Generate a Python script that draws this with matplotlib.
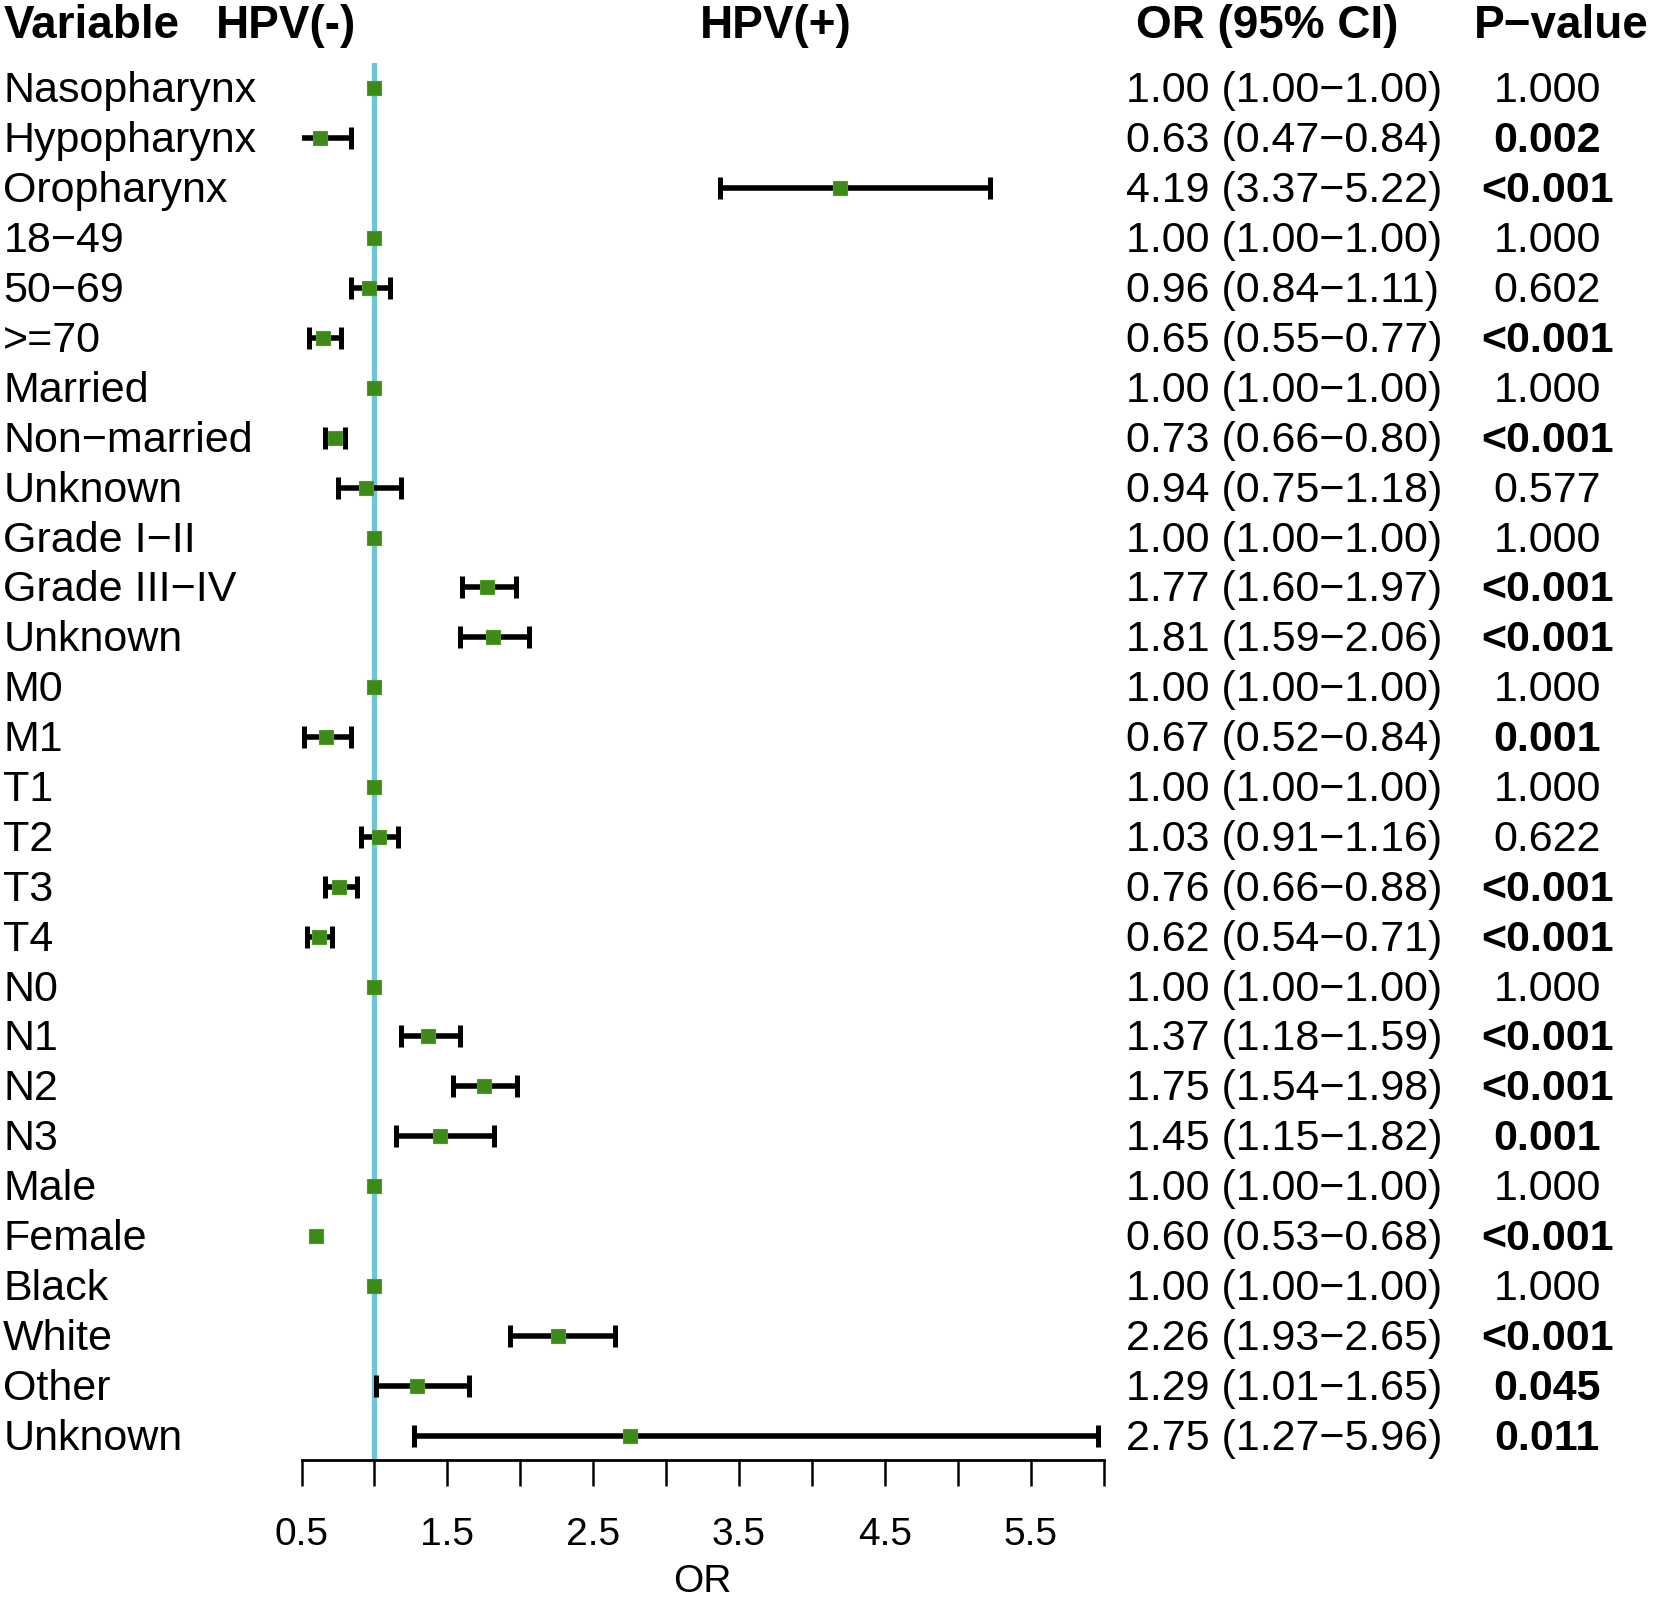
import numpy as np
import matplotlib
matplotlib.use("Agg")
import matplotlib.pyplot as plt
import matplotlib.transforms as mtransforms

plt.rcParams['font.family'] = ['Liberation Sans', 'DejaVu Sans']

# dane z wykresu (od gory do dolu)
labels = ["Nasopharynx", "Hypopharynx", "Oropharynx", "18−49", "50−69", ">=70",
          "Married", "Non−married", "Unknown", "Grade I−II", "Grade III−IV", "Unknown",
          "M0", "M1", "T1", "T2", "T3", "T4", "N0", "N1", "N2", "N3",
          "Male", "Female", "Black", "White", "Other", "Unknown"]
or_val = [1.00, 0.63, 4.19, 1.00, 0.96, 0.65, 1.00, 0.73, 0.94, 1.00, 1.77, 1.81,
          1.00, 0.67, 1.00, 1.03, 0.76, 0.62, 1.00, 1.37, 1.75, 1.45,
          1.00, 0.60, 1.00, 2.26, 1.29, 2.75]
ci_lo = [1.00, 0.47, 3.37, 1.00, 0.84, 0.55, 1.00, 0.66, 0.75, 1.00, 1.60, 1.59,
         1.00, 0.52, 1.00, 0.91, 0.66, 0.54, 1.00, 1.18, 1.54, 1.15,
         1.00, 0.53, 1.00, 1.93, 1.01, 1.27]
ci_hi = [1.00, 0.84, 5.22, 1.00, 1.11, 0.77, 1.00, 0.80, 1.18, 1.00, 1.97, 2.06,
         1.00, 0.84, 1.00, 1.16, 0.88, 0.71, 1.00, 1.59, 1.98, 1.82,
         1.00, 0.68, 1.00, 2.65, 1.65, 5.96]
p_val = ["1.000", "0.002", "<0.001", "1.000", "0.602", "<0.001", "1.000", "<0.001",
         "0.577", "1.000", "<0.001", "<0.001", "1.000", "0.001", "1.000", "0.622",
         "<0.001", "<0.001", "1.000", "<0.001", "<0.001", "0.001", "1.000", "<0.001",
         "1.000", "<0.001", "0.045", "0.011"]
# w oryginale dla tego wiersza nie ma narysowanej linii CI
no_ci_line = ["Female"]

xticks = np.arange(0.5, 6.01, 0.5)
xlabels_shown = [0.5, 1.5, 2.5, 3.5, 4.5, 5.5]

n = len(labels)
y = np.arange(n, 0, -1)

fig = plt.figure(figsize=(16.53, 16.0), dpi=100)
ax = fig.add_axes([0.1824, 0.0875, 0.6676 - 0.1824, 0.9606 - 0.0875])
ax.set_xlim(0.5, 6.0)
ax.set_ylim(0.51, n + 0.51)

green = '#3e8a17'
ax.axvline(1.0, color='#6ec5d6', lw=3.8, zorder=1)

for i in range(n):
    if ci_lo[i] != ci_hi[i] and labels[i] not in no_ci_line:
        ax.errorbar(or_val[i], y[i], xerr=[[or_val[i] - ci_lo[i]], [ci_hi[i] - or_val[i]]],
                    fmt='none', ecolor='black', elinewidth=4, capsize=8, capthick=3.6,
                    zorder=2)
    ax.plot(or_val[i], y[i], 's', color=green, ms=10, mec='#4f9a25', mew=0.8, zorder=3)

for s in ['top', 'right', 'left']:
    ax.spines[s].set_visible(False)
ax.spines['bottom'].set_linewidth(2)
ax.set_yticks([])
ax.set_xticks(xticks)
ax.set_xticklabels([("%.1f" % t) if round(t, 1) in xlabels_shown else "" for t in xticks])
ax.tick_params(axis='x', length=19, width=1.8, pad=22, labelsize=28)
ax.set_xlabel("OR", fontsize=28, labelpad=8)

# kolumny tekstowe
tr = mtransforms.blended_transform_factory(fig.transFigure, ax.transData)
yh = n + 1.25
yt = y - 0.06
fs = 31
fsh = 33
ax.text(0.002, yh, "Variable", transform=tr, fontsize=fsh, fontweight='bold',
        ha='left', va='center', clip_on=False)
ax.text(0.173, yh, "HPV(-)", transform=tr, fontsize=fsh, fontweight='bold',
        ha='center', va='center', clip_on=False)
ax.text(0.469, yh, "HPV(+)", transform=tr, fontsize=fsh, fontweight='bold',
        ha='center', va='center', clip_on=False)
ax.text(0.7665, yh, "OR (95% CI)", transform=tr, fontsize=fsh, fontweight='bold',
        ha='center', va='center', clip_on=False)
ax.text(0.9447, yh, "P−value", transform=tr, fontsize=fsh, fontweight='bold',
        ha='center', va='center', clip_on=False)

for i in range(n):
    ax.text(0.002, yt[i], labels[i], transform=tr, fontsize=fs, ha='left', va='center',
            clip_on=False)
    txt = "%.2f (%.2f−%.2f)" % (or_val[i], ci_lo[i], ci_hi[i])
    ax.text(0.681, yt[i], txt, transform=tr, fontsize=fs, ha='left', va='center',
            clip_on=False)
    p = p_val[i]
    bold = p.startswith("<") or float(p) < 0.05
    ax.text(0.936, yt[i], p, transform=tr, fontsize=fs, ha='center', va='center',
            fontweight='bold' if bold else 'normal', clip_on=False)

fig.savefig("out.png", dpi=100)
